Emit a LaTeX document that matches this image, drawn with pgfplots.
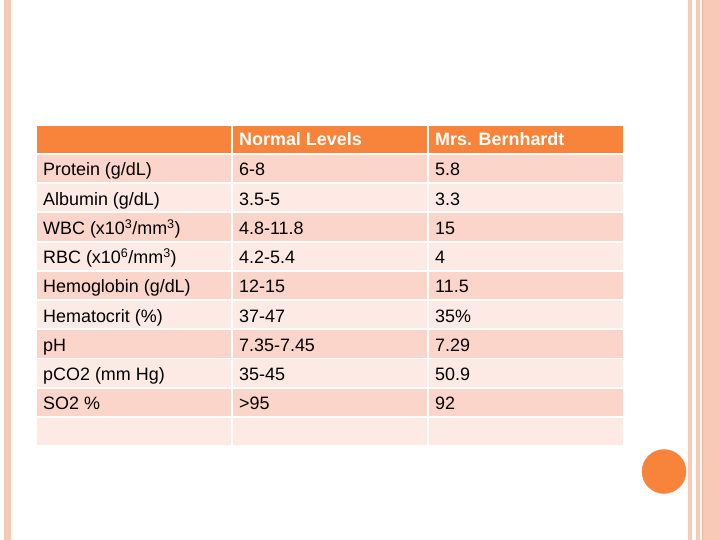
\documentclass[border=0pt]{standalone}
\usepackage{pgfplots}
\pgfplotsset{compat=1.18}
\usepackage{fontspec}
\setmainfont{Liberation Sans}
\definecolor{hdr}{HTML}{F7843A}
\definecolor{rowA}{HTML}{FBD5CA}
\definecolor{rowB}{HTML}{FDEAE4}
\definecolor{stripe}{HTML}{F9C9B6}
\definecolor{stripeD}{HTML}{F0AE96}
\newcommand{\cellrow}[3]{%
  \addplot[fill=#3, draw=none] coordinates {(37,#1) (231,#1) (231,#2) (37,#2)} -- cycle;
  \addplot[fill=#3, draw=none] coordinates {(233,#1) (427,#1) (427,#2) (233,#2)} -- cycle;
  \addplot[fill=#3, draw=none] coordinates {(429,#1) (623,#1) (623,#2) (429,#2)} -- cycle;
}
\newcommand{\textrow}[4]{%
  \node[anchor=base west, inner sep=0pt] at (axis cs:43,#1) {#2};
  \node[anchor=base west, inner sep=0pt] at (axis cs:239,#1) {#3};
  \node[anchor=base west, inner sep=0pt] at (axis cs:435,#1) {#4};
}
\begin{document}
\fontsize{18}{21.6}\selectfont
\begin{tikzpicture}
\begin{axis}[
  width=720bp, height=540bp, scale only axis,
  xmin=0, xmax=720, ymin=0, ymax=540, y dir=reverse,
  hide axis, clip=false,
]
% background
\addplot[fill=white, draw=none] coordinates {(0,0) (720,0) (720,540) (0,540)} -- cycle;
% left stripe
\addplot[fill=stripe, draw=none] coordinates {(4,0) (10.5,0) (10.5,540) (4,540)} -- cycle;
% right stripes
\addplot[fill=stripe, draw=none] coordinates {(688,0) (692,0) (692,540) (688,540)} -- cycle;
\addplot[fill=stripe, draw=none] coordinates {(696,0) (700,0) (700,540) (696,540)} -- cycle;
\addplot[fill=stripe, draw=none] coordinates {(703,0) (720,0) (720,540) (703,540)} -- cycle;
\addplot[fill=stripeD, draw=none] coordinates {(701.5,0) (703,0) (703,540) (701.5,540)} -- cycle;
% header
\cellrow{126}{153}{hdr}
% rows
\cellrow{155}{182.3}{rowA}
\cellrow{184.2}{211.5}{rowB}
\cellrow{213.4}{240.7}{rowA}
\cellrow{242.6}{269.9}{rowB}
\cellrow{271.8}{299.1}{rowA}
\cellrow{301}{328.3}{rowB}
\cellrow{330.2}{357.5}{rowA}
\cellrow{359.4}{386.7}{rowB}
\cellrow{388.6}{415.9}{rowA}
\cellrow{417.8}{445.1}{rowB}
% circle
\addplot[hdr, only marks, mark=*, mark size=22bp, mark options={fill=hdr, draw=hdr}] coordinates {(664,471.5)};
% header text
\node[anchor=base west, inner sep=0pt, text=white, font=\bfseries] at (axis cs:239,146) {Normal Levels};
\node[anchor=base west, inner sep=0pt, text=white, font=\bfseries] at (axis cs:435,146) {Mrs. Bernhardt};
% body text
\textrow{176}{Protein (g/dL)}{6-8}{5.8}
\textrow{205.2}{Albumin (g/dL)}{3.5-5}{3.3}
\textrow{234.4}{WBC (x10\textsuperscript{3}/mm\textsuperscript{3})}{4.8-11.8}{15}
\textrow{263.6}{RBC (x10\textsuperscript{6}/mm\textsuperscript{3})}{4.2-5.4}{4}
\textrow{292.8}{Hemoglobin (g/dL)}{12-15}{11.5}
\textrow{322}{Hematocrit (\%)}{37-47}{35\%}
\textrow{351.2}{pH}{7.35-7.45}{7.29}
\textrow{380.4}{pCO2 (mm Hg)}{35-45}{50.9}
\textrow{409.6}{SO2 \%}{>95}{92}
\end{axis}
\end{tikzpicture}
\end{document}
